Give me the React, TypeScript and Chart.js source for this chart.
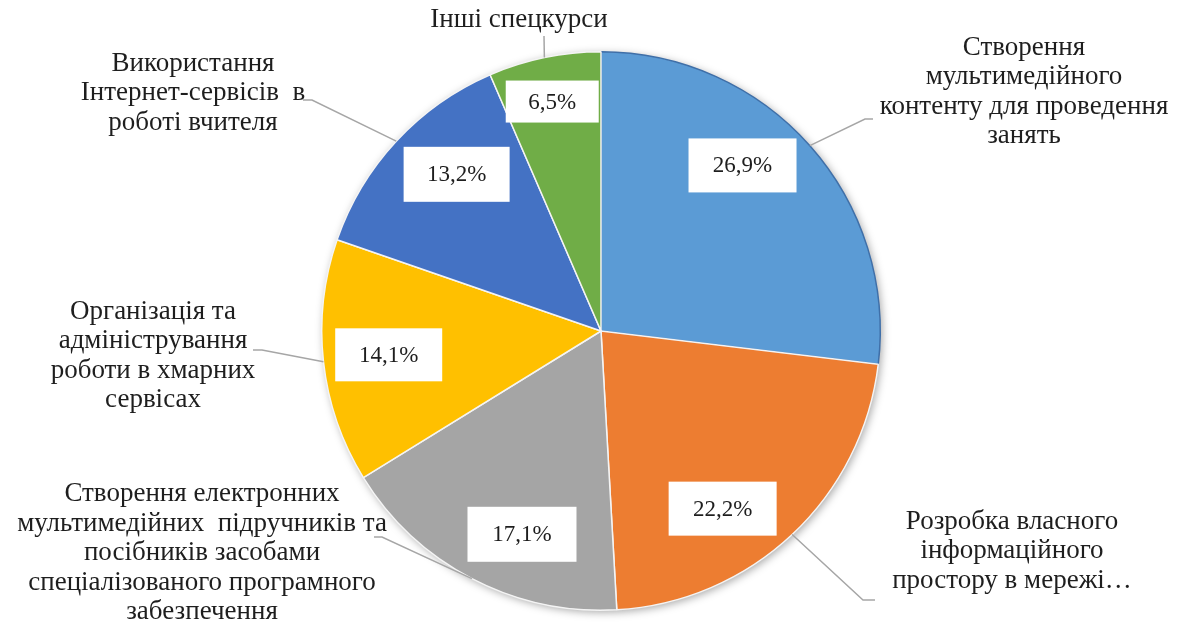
import React, { useEffect, useRef } from "react";
import { Chart, registerables } from "chart.js";

Chart.register(...registerables);

const categories: string[][] = [
  ["Створення", "мультимедійного", "контенту для проведення", "занять"],
  ["Розробка власного", "інформаційного", "простору в мережі…"],
  ["Створення електронних", "мультимедійних  підручників та", "посібників засобами", "спеціалізованого програмного", "забезпечення"],
  ["Організація та", "адміністрування", "роботи в хмарних", "сервісах"],
  ["Використання", "Інтернет-сервісів  в", "роботі вчителя"],
  ["Інші спецкурси"],
];
const shares: number[] = [26.9, 22.2, 17.1, 14.1, 13.2, 6.5];
const percentLabels: string[] = ["26,9%", "22,2%", "17,1%", "14,1%", "13,2%", "6,5%"];
const sliceColors: string[] = ["#5B9BD5", "#ED7D31", "#A5A5A5", "#FFC000", "#4472C4", "#70AD47"];
const sliceBorders: string[] = ["#3F6FA8", "#F4F4F4", "#F4F4F4", "#F4F4F4", "#F4F4F4", "#F4F4F4"];

// value-label placement: fraction of radius, angle shift (deg) from slice mid-angle, box size
const valueLabelLayout = [
  { r: 0.78, shift: -7.9, w: 108, h: 54 },
  { r: 0.771, shift: 8.8, w: 108, h: 54 },
  { r: 0.781, shift: -6.3, w: 109, h: 55 },
  { r: 0.765, shift: -0.1, w: 107, h: 53 },
  { r: 0.763, shift: 4.5, w: 106, h: 55 },
  { r: 0.84, shift: -0.3, w: 93, h: 42 },
];

// category-label placement relative to pie centre (px): text centre, leader elbow, leader end
const categoryLabelLayout = [
  { tx: 423, ty: -239, ex: 264, ey: -212, lx: 272, ly: -212 },
  { tx: 411, ty: 220, ex: 262, ey: 269, lx: 274, ly: 269 },
  { tx: -399, ty: 222, ex: -219, ey: 206, lx: -227, ly: 206 },
  { tx: -448, ty: 25, ex: -339, ey: 19, lx: -348, ly: 19 },
  { tx: -408, ty: -238, ex: -289, ey: -231, lx: -298, ly: -231 },
  { tx: -82, ty: -311, ex: -57, ey: -295, lx: -57, ly: -295 },
];

const FONT = '"Liberation Serif", "Times New Roman", serif';

const labelPlugin = {
  id: "pieLabels",
  beforeDatasetsDraw(chart: any) {
    const meta = chart.getDatasetMeta(0);
    const arc = meta.data[0];
    if (!arc) return;
    const { x, y, outerRadius } = arc.getProps(["x", "y", "outerRadius"], true);
    const ctx = chart.ctx;
    ctx.save();
    ctx.shadowColor = "rgba(0,0,0,0.35)";
    ctx.shadowBlur = 9;
    ctx.shadowOffsetX = 2;
    ctx.shadowOffsetY = 2;
    ctx.fillStyle = "#ffffff";
    ctx.beginPath();
    ctx.arc(x, y, outerRadius, 0, Math.PI * 2);
    ctx.fill();
    ctx.restore();
  },
  afterDatasetsDraw(chart: any) {
    const ctx = chart.ctx;
    const meta = chart.getDatasetMeta(0);
    meta.data.forEach((el: any, i: number) => {
      const { x, y, startAngle, endAngle, outerRadius } = el.getProps(
        ["x", "y", "startAngle", "endAngle", "outerRadius"],
        true
      );
      const mid = (startAngle + endAngle) / 2;
      // value label box
      const vl = valueLabelLayout[i];
      const a = mid + (vl.shift * Math.PI) / 180;
      const cx = x + Math.cos(a) * outerRadius * vl.r;
      const cy = y + Math.sin(a) * outerRadius * vl.r;
      ctx.save();
      ctx.fillStyle = "#ffffff";
      ctx.fillRect(cx - vl.w / 2, cy - vl.h / 2, vl.w, vl.h);
      ctx.fillStyle = "#1e1e1e";
      ctx.font = `23px ${FONT}`;
      ctx.textAlign = "center";
      ctx.textBaseline = "middle";
      ctx.fillText(percentLabels[i], cx, cy + 1);
      ctx.restore();

      // leader line
      const cl = categoryLabelLayout[i];
      const sx = x + Math.cos(mid) * outerRadius;
      const sy = y + Math.sin(mid) * outerRadius;
      ctx.save();
      ctx.strokeStyle = "#A6A6A6";
      ctx.lineWidth = 1.5;
      ctx.beginPath();
      ctx.moveTo(sx, sy);
      ctx.lineTo(x + cl.ex, y + cl.ey);
      ctx.lineTo(x + cl.lx, y + cl.ly);
      ctx.stroke();
      ctx.restore();

      // category text
      const lines = categories[i];
      const lh = 29.5;
      ctx.save();
      ctx.fillStyle = "#1e1e1e";
      ctx.font = `27px ${FONT}`;
      ctx.textAlign = "center";
      ctx.textBaseline = "middle";
      const top = y + cl.ty - ((lines.length - 1) * lh) / 2;
      lines.forEach((t, k) => ctx.fillText(t, x + cl.tx, top + k * lh));
      ctx.restore();
    });
  },
};

export default function App() {
  const ref = useRef<HTMLCanvasElement | null>(null);
  useEffect(() => {
    if (!ref.current) return;
    const chart = new Chart(ref.current, {
      type: "pie",
      data: {
        labels: categories.map((c) => c.join(" ")),
        datasets: [
          {
            data: shares,
            backgroundColor: sliceColors,
            borderColor: sliceBorders,
            borderWidth: 1.5,
          },
        ],
      },
      options: {
        responsive: false,
        animation: false,
        layout: { padding: { left: 321, right: 299, top: 51, bottom: 12 } },
        plugins: { legend: { display: false }, tooltip: { enabled: false } },
      },
      plugins: [labelPlugin],
    });
    return () => chart.destroy();
  }, []);
  return (
    <div style={{ position: "fixed", left: 0, top: 0, width: 1180, height: 623, background: "#fff" }}>
      <canvas ref={ref} width={1180} height={623} />
    </div>
  );
}
